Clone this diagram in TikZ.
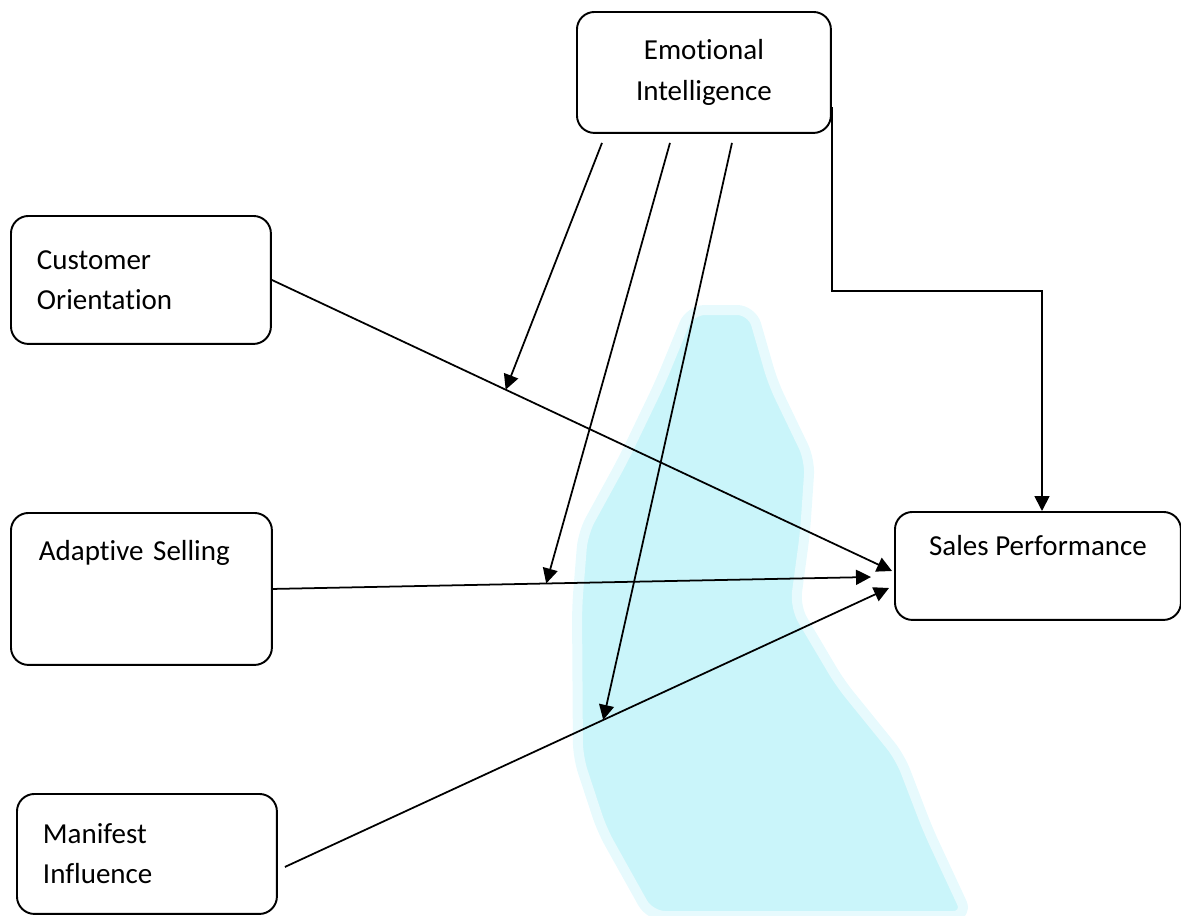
\documentclass[tikz,border=0pt]{standalone}
\usepackage{fontspec}
\setmainfont[Ligatures={NoCommon,NoContextual}]{Carlito}
\usetikzlibrary{arrows.meta,positioning}
\definecolor{wmark}{RGB}{202,245,250}

\begin{document}
\begin{tikzpicture}[x=0.02cm,y=-0.02cm,>={Triangle[length=3mm,width=3mm]},
    factor/.style={draw,line width=1.1pt,rounded corners=0.35cm,anchor=north west,
        font=\fontsize{16.5}{22.8}\selectfont,inner ysep=0pt},
    link/.style={->,line width=1pt}]

    \useasboundingbox (0,0) rectangle (1181,916);

    % faint background mark
    \filldraw[wmark,draw=wmark!45,line width=0.2cm,line join=round,rounded corners=0.3cm]
        (690,310) -- (752,310) -- (773,383) -- (810,460) -- (805,533) -- (795,607)
        -- (840,683) -- (900,757) -- (928,830) -- (968,916) -- (650,916) -- (602,830)
        -- (578,757) -- (577,607) -- (583,533) -- (623,460) -- (660,383) -- cycle;

    \node[factor,minimum width=5.08cm,minimum height=2.42cm,align=center] (ei) at (576,11) {Emotional\\Intelligence};

    \node[factor,minimum width=5.2cm,minimum height=2.56cm,text width=4.16cm,inner xsep=0.52cm,align=left] (co) at (10,215) {Customer\\Orientation};

    \node[factor,minimum width=5.22cm,text width=4.1cm,inner xsep=0.56cm,align=left,text height=0.96cm,text depth=2.08cm] (as) at (10,512) {Adaptive Selling};

    \node[factor,minimum width=5.2cm,minimum height=2.4cm,text width=4.16cm,inner xsep=0.52cm,align=left] (mi) at (16,793) {Manifest\\Influence};

    \node[factor,minimum width=5.72cm,text height=0.88cm,text depth=1.28cm] (sp) at (894,511) {Sales Performance};

    \coordinate (cotip) at (892,571);
    \coordinate (astip) at (871,577);
    \coordinate (mitip) at (889,588);
    \coordinate (bend) at (1042,291);

    \draw[link] (co.east) -- coordinate[pos=0.377] (co-m) (cotip);
    \draw[link] (as.east) -- coordinate[pos=0.457] (as-m) (astip);
    \draw[link] ([xshift=0.14cm,yshift=-0.26cm]mi.east) -- coordinate[pos=0.527] (mi-m) (mitip);

    \draw[link] ([xshift=0.52cm,yshift=-0.18cm]ei.south west) -- (co-m);
    \draw[link] ([xshift=1.88cm,yshift=-0.18cm]ei.south west) -- (as-m);
    \draw[link] ([xshift=3.12cm,yshift=-0.18cm]ei.south west) -- (mi-m);

    \draw[link] ([yshift=-0.7cm]ei.east) |- (bend) -- (bend |- sp.north);

\end{tikzpicture}
\end{document}
